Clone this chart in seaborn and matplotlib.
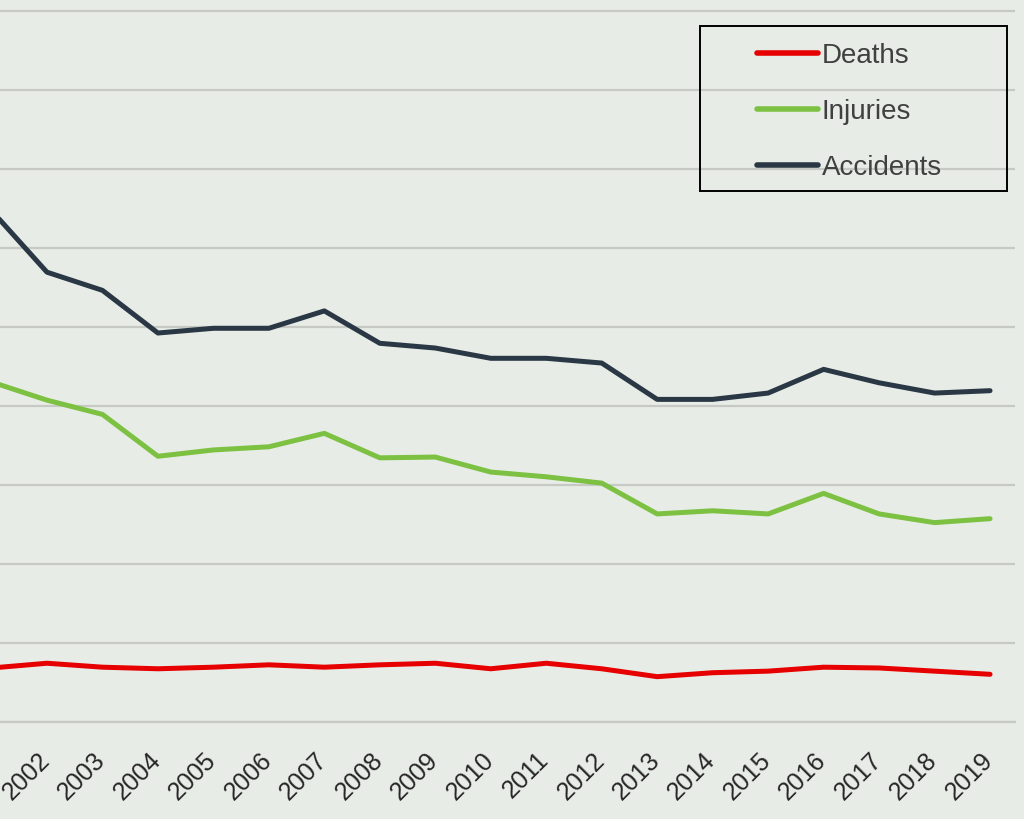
import numpy as np
import pandas as pd
import seaborn as sns
from matplotlib import pyplot as plt
from matplotlib.patches import Rectangle
from matplotlib.transforms import ScaledTranslation

# datos (unidades = una linea de grilla)
years = list(range(2001, 2020))
deaths = [0.68, 0.74, 0.69, 0.67, 0.69, 0.72, 0.69, 0.72, 0.74, 0.67,
          0.74, 0.67, 0.57, 0.62, 0.64, 0.69, 0.68, 0.64, 0.60]
injuries = [4.30, 4.07, 3.89, 3.36, 3.44, 3.48, 3.65, 3.34, 3.35, 3.16,
            3.10, 3.02, 2.63, 2.67, 2.63, 2.89, 2.63, 2.52, 2.57]
accidents = [6.47, 5.69, 5.46, 4.92, 4.98, 4.98, 5.20, 4.79, 4.73, 4.60,
             4.60, 4.54, 4.08, 4.08, 4.16, 4.46, 4.29, 4.16, 4.19]
series = ['Deaths', 'Injuries', 'Accidents']
colores = ['#e60000', '#7dc142', '#2a3744']
fondo = '#e8ece7'
grilla = '#c6c9c4'

df = pd.DataFrame({'year': years, 'Deaths': deaths,
                   'Injuries': injuries, 'Accidents': accidents})

sns.set_style('white', {'axes.facecolor': fondo, 'figure.facecolor': fondo})
plt.rcParams['font.family'] = ['Liberation Sans', 'DejaVu Sans']

fig = plt.figure(figsize=(10.24, 8.19), dpi=100)
ax = fig.add_axes([0, 97.3 / 819, 1015 / 1024, 721.7 / 819])

for nombre, c in zip(series, colores):
    sns.lineplot(data=df, x='year', y=nombre, color=c, linewidth=3.6,
                 label=nombre, ax=ax)

ax.set_xlim(2001.153, 2019.45)
ax.set_ylim(0, 721.7 / 79)
ax.set_yticks(np.arange(0, 10))
ax.set_yticklabels([])
ax.set_xticks(years[1:])
ax.set_xticklabels([str(y) for y in years[1:]], rotation=45, ha='right',
                   va='center', rotation_mode='anchor', fontsize=18,
                   color='#262626')
ax.tick_params(axis='x', length=0, pad=25)
ax.tick_params(axis='y', length=0)
ax.yaxis.grid(True, color=grilla, linewidth=1.6)
ax.set_xlabel('')
ax.set_ylabel('')
for s in ['top', 'left', 'right']:
    ax.spines[s].set_visible(False)
ax.spines['bottom'].set_color(grilla)
ax.spines['bottom'].set_linewidth(1.6)

for lab in ax.get_xticklabels():
    lab.set_transform(lab.get_transform() +
                      ScaledTranslation(-1 / 100, 0, fig.dpi_scale_trans))

# leyenda
leg = ax.legend(loc='upper left', bbox_to_anchor=(757 / 1024, 1 - 43 / 819),
                bbox_transform=fig.transFigure, frameon=False, fontsize=20,
                handlelength=2.2, handletextpad=0.12, labelspacing=1.08,
                borderpad=0, borderaxespad=0)
for t in leg.get_texts():
    t.set_color('#404040')
for l in leg.get_lines():
    l.set_linewidth(4)
fig.patches.append(Rectangle((700 / 1024, 1 - 191 / 819), 307 / 1024, 165 / 819,
                             transform=fig.transFigure, fill=False,
                             edgecolor='black', linewidth=1.4))

plt.savefig('out.png', dpi=100, facecolor=fondo)
